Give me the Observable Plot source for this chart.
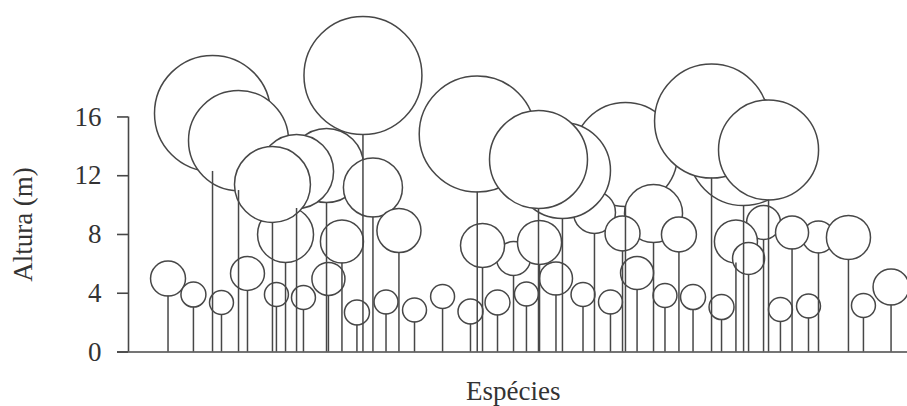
<!DOCTYPE html>
<html>
<head>
<meta charset="utf-8">
<script src="https://cdn.jsdelivr.net/npm/d3@7"></script>
<script src="https://cdn.jsdelivr.net/npm/@observablehq/plot@0.6"></script>
<style>
  html, body { margin: 0; padding: 0; background: #fff; }
  #chart { width: 907px; height: 406px; }
</style>
</head>
<body>
<div id="chart"></div>
<script>
// ---- data (drawing order: back to front) ----
// position along the transect (m), crown base height (m), crown diameter (m)
const species = [
  "s01","s02","s03","s04","s05","s06","s07","s08","s09","s10",
  "s11","s12","s13","s14","s15","s16","s17","s18","s19","s20",
  "s21","s22","s23","s24","s25",
  "A","B","D","F","E","C","G","H","J","I",
  "P","S","R2","R","Q","T","Y","V","W",
  "m10","m08","m12","m15","mU","mAB","mZ","mAA","mAD","mAC","mAE"
];
const position = [
  2.69, 4.42, 6.33, 8.10, 10.07, 11.91, 13.61, 15.55, 17.53, 19.47,
  21.38, 23.28, 25.12, 27.09, 29.10, 30.94, 32.81, 34.62, 36.52, 38.43,
  40.37, 44.38, 46.29, 50.03, 51.91,
  5.72, 7.49, 10.69, 13.48, 11.44, 9.80, 15.96, 16.64, 14.53, 18.41,
  23.74, 33.83, 31.72, 29.54, 27.91, 35.74, 41.87, 39.69, 43.57,
  26.21, 24.10, 27.98, 33.63, 37.47, 43.23, 41.35, 42.21, 46.97, 45.17, 49.01
];
const crownBase = [
  3.81, 3.06, 2.55, 4.19, 3.10, 2.89, 3.85, 1.84, 2.59, 2.04,
  2.96, 1.91, 2.52, 3.13, 3.88, 3.10, 2.59, 4.25, 3.03, 2.89,
  2.21, 2.08, 2.31, 2.35, 3.20,
  12.29, 10.99, 6.09, 10.18, 9.77, 8.82, 14.81, 9.19, 6.06, 6.77,
  10.89, 9.90, 8.07, 9.09, 9.77, 7.45, 9.97, 11.84, 10.35,
  5.21, 5.75, 5.96, 6.88, 6.81, 7.66, 6.06, 5.28, 6.74, 7.01, 6.30
];
const crownDiameter = [
  2.38, 1.70, 1.63, 2.31, 1.63, 1.63, 2.25, 1.70, 1.63, 1.63,
  1.63, 1.70, 1.70, 1.63, 2.25, 1.63, 1.63, 2.25, 1.63, 1.70,
  1.70, 1.63, 1.63, 1.63, 2.45,
  7.90, 6.81, 3.81, 5.04, 5.04, 5.17, 8.03, 4.02, 2.93, 3.00,
  7.90, 7.08, 2.86, 6.54, 6.67, 3.95, 7.49, 7.76, 6.81,
  2.31, 3.00, 3.00, 2.38, 2.38, 2.31, 2.93, 2.18, 2.18, 2.25, 3.00
];
const yTicks = [0, 4, 8, 12, 16];
const yLabel = "Altura (m)";
const xLabel = "Espécies";

// ---- build table ----
const trees = species.map((s, i) => ({
  species: s,
  pos: position[i],
  base: crownBase[i],
  crown: crownDiameter[i]
}));

// ---- layout ----
const W = 907, H = 406;
const mLeft = 128, mRight = 0, mTop = 0, mBottom = 54.5;
const ppm = 14.69; // pixels per metre (same on both axes, so crowns are round)
const xMax = (W - mLeft - mRight) / ppm;
const yMax = (H - mTop - mBottom) / ppm;
const pxToX = (px) => (px - mLeft) / ppm;
const pxToY = (py) => (H - mBottom - py) / ppm;

const ink = "#474747";
const sw = 1.5;

const chart = Plot.plot({
  width: W,
  height: H,
  marginLeft: mLeft,
  marginRight: mRight,
  marginTop: mTop,
  marginBottom: mBottom,
  style: {fontFamily: "'Liberation Serif', 'Times New Roman', serif", fontSize: "27px", color: "#333", background: "#fff"},
  x: {domain: [0, xMax], axis: null},
  y: {domain: [0, yMax], axis: null},
  r: {type: "linear", domain: [0, 10], range: [0, 10 * ppm]},
  marks: [
    // crowns
    Plot.dot(trees, {
      x: "pos",
      y: d => d.base + d.crown / 2,
      r: d => d.crown / 2,
      fill: "white",
      stroke: ink,
      strokeWidth: sw,
      sort: null
    }),
    // stems
    Plot.ruleX(trees, {x: "pos", y1: 0, y2: "base", stroke: ink, strokeWidth: sw}),
    // axes
    Plot.ruleX([0], {y1: 0, y2: yTicks[yTicks.length - 1], stroke: ink, strokeWidth: 1.6}),
    Plot.ruleY([0], {x1: pxToX(117), x2: xMax, stroke: ink, strokeWidth: 1.6}),
    Plot.axisY({ticks: yTicks, tickSize: 11, tickPadding: 16, stroke: ink, strokeWidth: 1.6, fill: "#333", label: null}),
    Plot.text([xLabel], {x: pxToX(512.7), y: pxToY(390.5), text: d => d, fill: "#333"}),
    Plot.text([yLabel], {x: pxToX(22.5), y: pxToY(224), text: d => d, rotate: -90, fill: "#333"})
  ]
});

document.getElementById("chart").appendChild(chart);
</script>
</body>
</html>
